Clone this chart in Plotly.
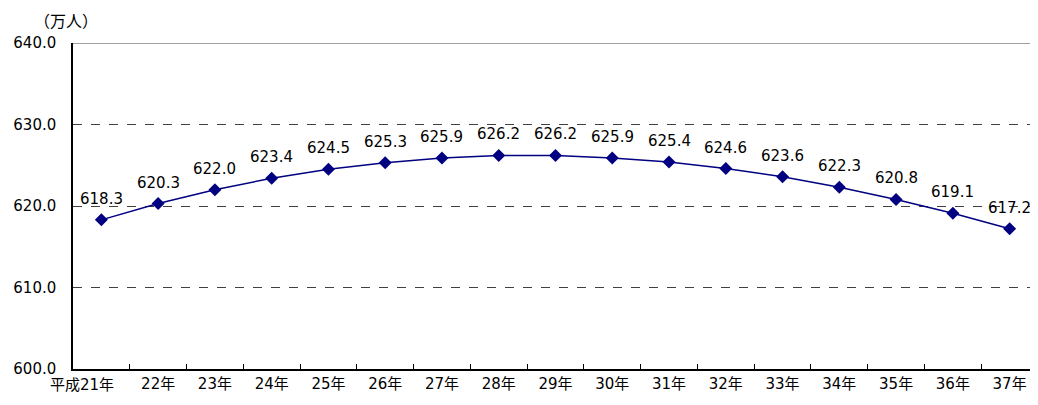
import plotly.graph_objects as go

categories = ["平成21年", "22年", "23年", "24年", "25年", "26年", "27年", "28年", "29年",
              "30年", "31年", "32年", "33年", "34年", "35年", "36年", "37年"]
values = [618.3, 620.3, 622.0, 623.4, 624.5, 625.3, 625.9, 626.2, 626.2,
          625.9, 625.4, 624.6, 623.6, 622.3, 620.8, 619.1, 617.2]
y_ticks = [600, 610, 620, 630, 640]

font = "DejaVu Sans, Noto Sans CJK JP, sans-serif"
cjk_font = "Noto Sans CJK JP, sans-serif"

tick_text = [""] + categories[1:]

fig = go.Figure()
fig.add_trace(go.Scatter(
    x=categories, y=values, mode="lines+markers",
    line=dict(color="#000080", width=1.5),
    marker=dict(symbol="diamond", size=10, color="#000080"),
    cliponaxis=False,
))

annotations = [dict(x=c, y=v, text=f"{v:.1f}", xref="x", yref="y", showarrow=False,
                    yshift=21, font=dict(size=15, color="#000000", family=font))
               for c, v in zip(categories, values)]
annotations.append(dict(x=categories[0], y=0, xref="x", yref="paper", text=categories[0],
                        showarrow=False, xanchor="center", yanchor="top",
                        xshift=-19, yshift=-5, font=dict(size=15, family=font)))
annotations.append(dict(text="（万人）", xref="paper", yref="paper", x=0.0, y=1.0,
                        xanchor="center", yanchor="bottom", yshift=9, xshift=-7,
                        showarrow=False, font=dict(size=16, family=cjk_font)))

fig.add_shape(type="line", xref="paper", yref="y", x0=0, x1=1, y0=640, y1=640,
              line=dict(color="#808080", width=1.5))

fig.update_layout(
    width=1030, height=397,
    margin=dict(l=65, r=0, t=35, b=36),
    plot_bgcolor="white", paper_bgcolor="white",
    showlegend=False,
    font=dict(family=font, size=15, color="#000000"),
    xaxis=dict(
        type="category", tickson="boundaries", ticks="inside", ticklen=5,
        tickcolor="#000000", showline=True, linecolor="#000000", linewidth=1.5,
        showgrid=False, tickfont=dict(size=15), range=[-0.5, 16.5],
        tickangle=0, automargin=False,
        tickmode="array", tickvals=categories, ticktext=tick_text,
    ),
    yaxis=dict(
        range=[600, 640], tickvals=y_ticks, ticktext=[f"{v:.1f}" for v in y_ticks],
        showline=True, linecolor="#000000", linewidth=1.5, ticks="",
        showgrid=True, gridcolor="#404040", griddash="dash", gridwidth=1,
        zeroline=False, tickfont=dict(size=15), automargin=False,
        ticklabelstandoff=12,
    ),
    annotations=annotations,
)

fig.write_html("out.html")
